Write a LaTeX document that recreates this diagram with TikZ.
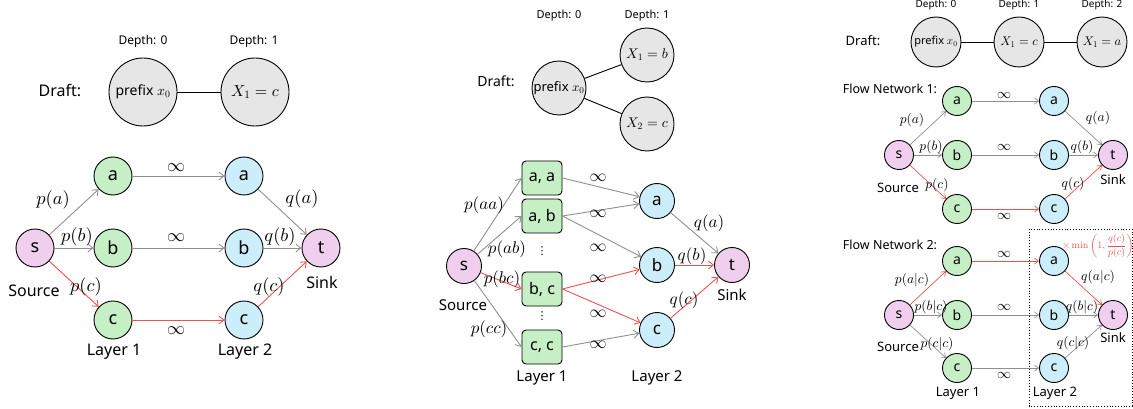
\documentclass[tikz,border=0pt]{standalone}
\usepackage{fontspec}
\setsansfont{Noto Sans}
\newfontfamily\djv{DejaVu Sans}
\DeclareFontShape{OML}{cmm}{m}{it}{<->cmmi10}{}
\DeclareFontShape{OMS}{cmsy}{m}{n}{<->cmsy10}{}
\DeclareFontShape{OT1}{cmr}{m}{n}{<->cmr10}{}
\DeclareFontShape{OMX}{cmex}{m}{n}{<->cmex10}{}
\usetikzlibrary{arrows.meta}
\definecolor{draftgray}{HTML}{E6E6E6}
\definecolor{greenf}{HTML}{C6EFC6}
\definecolor{bluef}{HTML}{CCEDFA}
\definecolor{pinkf}{HTML}{F0CEEE}
\definecolor{edgegray}{HTML}{8F8F8F}
\definecolor{edgered}{HTML}{EE5050}
\newcommand{\fs}[1]{\fontsize{#1}{#1}\selectfont}
\begin{document}
\begin{tikzpicture}[x=1pt,y=-1pt,
  every node/.style={inner sep=0pt},
  dc/.style={circle,draw=black,line width=0.9pt,fill=draftgray},
  gn/.style={circle,draw=black,line width=0.9pt,fill=greenf},
  bn/.style={circle,draw=black,line width=0.9pt,fill=bluef},
  pn/.style={circle,draw=black,line width=0.9pt,fill=pinkf},
  bx/.style={rectangle,rounded corners=4pt,draw=black,line width=0.9pt,fill=greenf,minimum width=40pt,minimum height=34pt,font=\sffamily\fs{16}},
  ge/.style={draw=edgegray,line width=0.9pt,-{Straight Barb[length=5pt,width=8pt]}},
  re/.style={draw=edgered,line width=0.9pt,-{Straight Barb[length=5pt,width=8pt]}},
  gs/.style={draw=edgegray,line width=0.7pt,-{Straight Barb[length=4pt,width=6pt]}},
  rs/.style={draw=edgered,line width=0.7pt,-{Straight Barb[length=4pt,width=6pt]}},
  dl/.style={draw=black,line width=0.9pt},
  sf/.style={font=\sffamily\fs{#1}},
  mf/.style={font=\fs{#1}},
]
\useasboundingbox (0,0) rectangle (1133,409);

% ================= Panel 1 =================
\node[sf=12] (d10) at (143,41) {Depth: 0};
\node[sf=12] (d11) at (254,41) {Depth: 1};
\node[sf=16] (dr1) at (60,90) {Draft:};
\node[dc,minimum size=68pt,sf=14] (p1) at (143,92) {prefix $x_0$};
\node[dc,minimum size=68pt,mf=16] (x1c) at (255,92) {$X_1=c$};
\draw[dl] (p1) -- (x1c);

\node[pn,minimum size=38pt,sf=18] (s1) at (35,248) {s};
\node[gn,minimum size=38pt,sf=18] (a1) at (113,176) {a};
\node[gn,minimum size=38pt,sf=18] (b1) at (113,248) {b};
\node[gn,minimum size=38pt,sf=18] (c1) at (113,320) {c};
\node[bn,minimum size=38pt,sf=18] (a2) at (244,176) {a};
\node[bn,minimum size=38pt,sf=18] (b2) at (244,248) {b};
\node[bn,minimum size=38pt,sf=18] (c2) at (244,320) {c};
\node[pn,minimum size=38pt,sf=18] (t1) at (321,248) {t};
\draw[ge] (s1) -- (a1);
\draw[ge] (s1) -- (b1);
\draw[re] (s1) -- (c1);
\draw[ge] (a1) -- (a2);
\draw[ge] (b1) -- (b2);
\draw[re] (c1) -- (c2);
\draw[ge] (a2) -- (t1);
\draw[ge] (b2) -- (t1);
\draw[re] (c2) -- (t1);
\node[mf=18.5] (l1pa) at (53,200) {$p(a)$};
\node[mf=18.5] (l1pb) at (77,237) {$p(b)$};
\node[mf=18.5] (l1pc) at (86,287) {$p(c)$};
\node[mf=18.5] (l1qa) at (302,199) {$q(a)$};
\node[mf=18.5] (l1qb) at (280,237) {$q(b)$};
\node[mf=18.5] (l1qc) at (269,287) {$q(c)$};
\node[mf=18] (l1i1) at (176,168) {$\infty$};
\node[mf=18] (l1i2) at (176,238) {$\infty$};
\node[mf=18] (l1i3) at (176,331) {$\infty$};
\node[sf=16] (src1) at (34,291) {Source};
\node[sf=16] (snk1) at (322,282) {Sink};
\node[sf=16] (ly11) at (114,352) {Layer 1};
\node[sf=16] (ly12) at (245,352) {Layer 2};

% ================= Panel 2 =================
\node[sf=11] (d20) at (559,16) {Depth: 0};
\node[sf=11] (d21) at (647,16) {Depth: 1};
\node[sf=14] (dr2) at (496,81) {Draft:};
\node[dc,minimum size=54pt,sf=13] (p2) at (559,88) {prefix $x_0$};
\node[dc,minimum size=54pt,mf=14] (x2b) at (647,55) {$X_1=b$};
\node[dc,minimum size=54pt,mf=14] (x2c) at (647,124) {$X_2=c$};
\draw[dl] (p2) -- (x2b);
\draw[dl] (p2) -- (x2c);

\node[pn,minimum size=35pt,sf=17] (s2) at (464,266) {s};
\node[bx] (aa) at (542,178) {a, a};
\node[bx] (ab) at (542,216) {a, b};
\node[bx] (bc) at (542,289) {b, c};
\node[bx] (cc) at (542,347) {c, c};
\node[font=\djv\fs{11}] (dots1) at (542,251) {⋮};
\node[font=\djv\fs{11}] (dots2) at (542,316) {⋮};
\node[bn,minimum size=35pt,sf=17] (a22) at (657,201) {a};
\node[bn,minimum size=35pt,sf=17] (b22) at (657,265) {b};
\node[bn,minimum size=35pt,sf=17] (c22) at (657,330) {c};
\node[pn,minimum size=35pt,sf=17] (t2) at (732,265) {t};
\draw[ge] (s2) -- (aa.west);
\draw[ge] (s2) -- (ab.west);
\draw[re] (s2) -- (bc.west);
\draw[ge] (s2) -- (cc.west);
\draw[ge] (aa.east) -- (a22);
\draw[ge] (ab.east) -- (a22);
\draw[ge] (ab.east) -- (b22);
\draw[re] (bc.east) -- (b22);
\draw[re] (bc.east) -- (c22);
\draw[ge] (cc.east) -- (c22);
\draw[ge] (a22) -- (t2);
\draw[re] (b22) -- (t2);
\draw[re] (c22) -- (t2);
\node[mf=17] (l2paa) at (484,205) {$p(aa)$};
\node[mf=17] (l2pab) at (507,249) {$p(ab)$};
\node[mf=17] (l2pbc) at (502,279) {$p(bc)$};
\node[mf=17] (l2pcc) at (489,329) {$p(cc)$};
\node[mf=17] (l2qa) at (709,223) {$q(a)$};
\node[mf=17] (l2qb) at (692,256) {$q(b)$};
\node[mf=17] (l2qc) at (684,300) {$q(c)$};
\node[mf=17] (l2i1) at (598,178) {$\infty$};
\node[mf=17] (l2i2) at (598,214) {$\infty$};
\node[mf=17] (l2i3) at (598,248) {$\infty$};
\node[mf=17] (l2i4) at (598,279) {$\infty$};
\node[mf=17] (l2i5) at (598,314) {$\infty$};
\node[mf=17] (l2i6) at (598,345) {$\infty$};
\node[sf=15] (src2) at (463,305) {Source};
\node[sf=15] (snk2) at (732,295) {Sink};
\node[sf=15] (ly21) at (542,378) {Layer 1};
\node[sf=15] (ly22) at (657,378) {Layer 2};

% ================= Panel 3 =================
\node[sf=10] (d30) at (936,5) {Depth: 0};
\node[sf=10] (d31) at (1019,5) {Depth: 1};
\node[sf=10] (d32) at (1102,5) {Depth: 2};
\node[sf=13] (dr3) at (863,41) {Draft:};
\node[dc,minimum size=50pt,sf=11] (p3) at (936,42) {prefix $x_0$};
\node[dc,minimum size=50pt,mf=12.5] (x3c) at (1019,42) {$X_1=c$};
\node[dc,minimum size=50pt,mf=12.5] (x3a) at (1102,42) {$X_1=a$};
\draw[dl] (p3) -- (x3c);
\draw[dl] (x3c) -- (x3a);

% Flow network 1
\node[sf=12.5] (fn1) at (890,89) {Flow Network 1:};
\node[pn,minimum size=29pt,sf=14] (s3) at (899,155) {s};
\node[gn,minimum size=29pt,sf=14] (a31) at (957,101) {a};
\node[gn,minimum size=29pt,sf=14] (b31) at (957,155) {b};
\node[gn,minimum size=29pt,sf=14] (c31) at (957,209) {c};
\node[bn,minimum size=29pt,sf=14] (a32) at (1054,101) {a};
\node[bn,minimum size=29pt,sf=14] (b32) at (1054,155) {b};
\node[bn,minimum size=29pt,sf=14] (c32) at (1054,209) {c};
\node[pn,minimum size=29pt,sf=14] (t3) at (1113,155) {t};
\draw[gs] (s3) -- (a31);
\draw[gs] (s3) -- (b31);
\draw[rs] (s3) -- (c31);
\draw[gs] (a31) -- (a32);
\draw[gs] (b31) -- (b32);
\draw[rs] (c31) -- (c32);
\draw[gs] (a32) -- (t3);
\draw[gs] (b32) -- (t3);
\draw[rs] (c32) -- (t3);
\node[mf=13.5] (l3pa) at (912,120) {$p(a)$};
\node[mf=13.5] (l3pb) at (931,147) {$p(b)$};
\node[mf=13.5] (l3pc) at (937,185) {$p(c)$};
\node[mf=13.5] (l3qa) at (1098,118) {$q(a)$};
\node[mf=13.5] (l3qb) at (1082,147) {$q(b)$};
\node[mf=13.5] (l3qc) at (1073,184) {$q(c)$};
\node[mf=14] (l3i1) at (1004,95) {$\infty$};
\node[mf=14] (l3i2) at (1004,147) {$\infty$};
\node[mf=14] (l3i3) at (1004,216) {$\infty$};
\node[sf=13] (src3) at (898,188) {Source};
\node[sf=13] (snk3) at (1113,180) {Sink};

% Flow network 2
\node[sf=12.5] (fn2) at (890,245) {Flow Network 2:};
\node[pn,minimum size=29pt,sf=14] (s4) at (899,315) {s};
\node[gn,minimum size=29pt,sf=14] (a41) at (957,261) {a};
\node[gn,minimum size=29pt,sf=14] (b41) at (957,315) {b};
\node[gn,minimum size=29pt,sf=14] (c41) at (957,368) {c};
\node[bn,minimum size=29pt,sf=14] (a42) at (1054,261) {a};
\node[bn,minimum size=29pt,sf=14] (b42) at (1054,315) {b};
\node[bn,minimum size=29pt,sf=14] (c42) at (1054,368) {c};
\node[pn,minimum size=29pt,sf=14] (t4) at (1113,315) {t};
\draw[rs] (s4) -- (a41);
\draw[gs] (s4) -- (b41);
\draw[gs] (s4) -- (c41);
\draw[rs] (a41) -- (a42);
\draw[gs] (b41) -- (b42);
\draw[gs] (c41) -- (c42);
\draw[rs] (a42) -- (t4);
\draw[gs] (b42) -- (t4);
\draw[gs] (c42) -- (t4);
\node[mf=13.5] (l4pa) at (912,280) {$p(a|c)$};
\node[mf=13.5] (l4pb) at (931,307) {$p(b|c)$};
\node[mf=13.5] (l4pc) at (937,344) {$p(c|c)$};
\node[mf=13.5] (l4qa) at (1098,277) {$q(a|c)$};
\node[mf=13.5] (l4qb) at (1082,307) {$q(b|c)$};
\node[mf=13.5] (l4qc) at (1073,343) {$q(c|c)$};
\node[mf=14] (l4i1) at (1004,254) {$\infty$};
\node[mf=14] (l4i2) at (1004,307) {$\infty$};
\node[mf=14] (l4i3) at (1004,375) {$\infty$};
\node[sf=13] (src4) at (898,347) {Source};
\node[sf=13] (snk4) at (1113,338) {Sink};
\node[sf=13] (ly41) at (958,393) {Layer 1};
\node[sf=13] (ly42) at (1055,393) {Layer 2};
\node[mf=10,text=edgered] (mul) at (1098,246) {$\displaystyle\times\min\left(1,\frac{q(c)}{p(c)}\right)$};
\draw[black,line width=0.8pt,dotted] (1029,229) rectangle (1132,406);
\end{tikzpicture}
\end{document}
